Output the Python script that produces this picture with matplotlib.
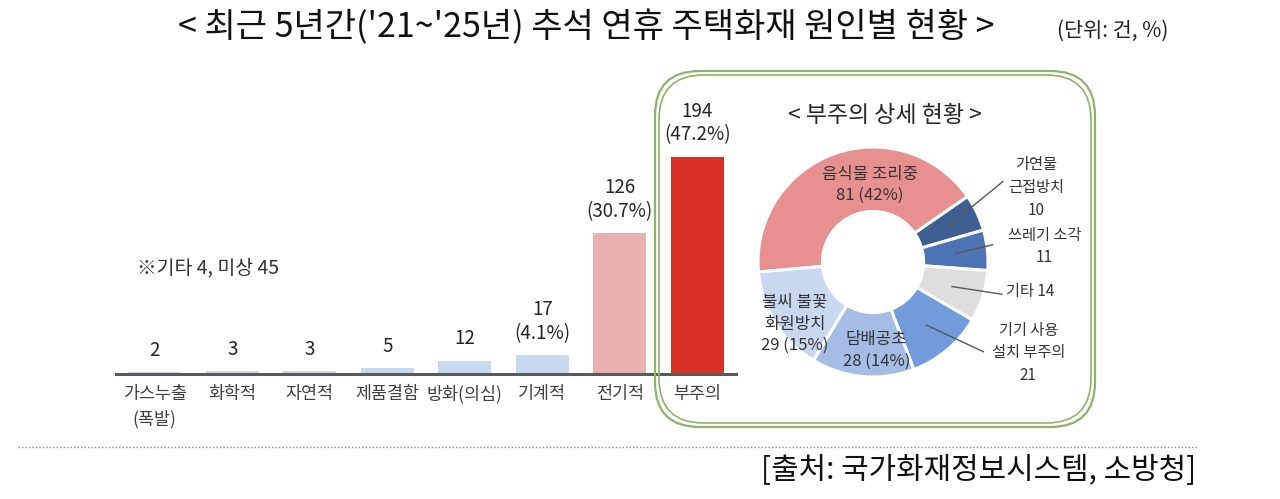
import matplotlib
import numpy as np
import matplotlib.pyplot as plt
from matplotlib.patches import FancyBboxPatch
from matplotlib.lines import Line2D
matplotlib.use('Agg')

plt.rcParams['font.family'] = ['Noto Sans CJK KR', 'DejaVu Sans']

# 원인별 현황 (막대)
causes = ["가스누출\n(폭발)", "화학적", "자연적", "제품결함", "방화(의심)", "기계적", "전기적", "부주의"]
counts = [2, 3, 3, 5, 12, 17, 126, 194]
shares = [None, None, None, None, None, 4.1, 30.7, 47.2]
bar_colors = ["#C6D9F1"] * 6 + ["#EBB0B0", "#D93025"]

# 부주의 상세 현황 (도넛)
detail_names = ["음식물 조리중", "가연물\n근접방치", "쓰레기 소각", "기타", "기기 사용\n설치 부주의", "담배공초", "불씨 불꽃\n화원방치"]
detail_counts = [81, 10, 11, 14, 21, 28, 29]
detail_pct = [42, None, None, None, None, 14, 15]
detail_colors = ["#E8908F", "#3D5E91", "#4C74B5", "#DEDEDE", "#729BDB", "#A5BDE6", "#C9D8F0"]

W, H = 1280, 499
fig = plt.figure(figsize=(12.8, 4.99), dpi=100)

def px_box(x0, y0, x1, y1):
    # pixel box (top-left origin) -> figure fraction rect
    return [x0 / W, 1 - y1 / H, (x1 - x0) / W, (y1 - y0) / H]

# ---- 막대 그래프
ax = fig.add_axes(px_box(116, 94, 736, 374))
x = np.arange(len(causes))
ax.bar(x, counts, width=0.68, color=bar_colors, zorder=2)
ax.set_xlim(-0.5, len(causes) - 0.5)
ax.set_ylim(0, 250)
for s in ["top", "right", "left"]:
    ax.spines[s].set_visible(False)
ax.spines["bottom"].set_color("#595959")
ax.spines["bottom"].set_linewidth(2.2)
ax.set_yticks([])
ax.set_xticks(x)
ax.set_xticklabels(causes, fontsize=12.5, color="#404040", linespacing=1.5)
ax.tick_params(axis="x", length=0, pad=8)

for i, (c, s) in enumerate(zip(counts, shares)):
    label = f"{c}" if s is None else f"{c}\n({s}%)"
    ax.annotate(label, (i, c), xytext=(0, 8), textcoords="offset points",
                ha="center", va="bottom", fontsize=13.5, color="#262626",
                linespacing=1.15)

fig.text(137 / W, 1 - 268 / H, "※기타 4, 미상 45", fontsize=14, color="#333333",
         ha="left", va="center")

# ---- 초록 박스
for pad, lw in [(0, 1.6), (4, 1.2)]:
    box = FancyBboxPatch(((655 + pad) / W, 1 - (427 - pad) / H),
                         (440 - 2 * pad) / W, (356 - 2 * pad) / H,
                         boxstyle="round,pad=0,rounding_size=0.035",
                         transform=fig.transFigure, fill=False,
                         edgecolor="#8DB36A", linewidth=lw,
                         mutation_aspect=W / H)
    fig.add_artist(box)

# ---- 도넛
cx, cy, half = 873, 262, 130
pax = fig.add_axes(px_box(cx - half, cy - half, cx + half, cy + half))
wedges, _ = pax.pie(detail_counts, colors=detail_colors, startangle=185,
                    counterclock=False, radius=1.0,
                    wedgeprops=dict(width=0.56, edgecolor="white", linewidth=2.2))
lim = half / 115
pax.set_xlim(-lim, lim)
pax.set_ylim(-lim, lim)
pax.set_aspect("equal")
pax.axis("off")

# 안쪽 라벨 위치 / 바깥 라벨 위치 (축 단위)
inner_pos = {0: (-0.03, 0.67), 5: (0.03, -0.77), 6: (-0.68, -0.54)}
outer_pos = {1: (1.42, 0.65), 2: (1.49, 0.135), 3: (1.37, -0.26), 4: (1.35, -0.79)}
line_end = {1: (1.13, 0.70), 2: (1.04, 0.15), 3: (1.12, -0.28), 4: (0.96, -0.78)}

for i, w in enumerate(wedges):
    name, cnt, pct = detail_names[i], detail_counts[i], detail_pct[i]
    if i in inner_pos:
        txt = f"{name}\n{cnt} ({pct}%)"
        pax.text(*inner_pos[i], txt, ha="center", va="center", fontsize=12,
                 color="#333333", linespacing=1.35, fontweight="medium")
    else:
        if i == 3:
            txt = f"{name} {cnt}"
        else:
            txt = f"{name}\n{cnt}"
        pax.text(*outer_pos[i], txt, ha="center", va="center", fontsize=11,
                 color="#333333", linespacing=1.45, clip_on=False)
        ang = np.deg2rad((w.theta1 + w.theta2) / 2)
        sx, sy = 0.72 * np.cos(ang), 0.72 * np.sin(ang)
        pax.plot([sx, line_end[i][0]], [sy, line_end[i][1]], color="#595959",
                 linewidth=1.0, clip_on=False)

fig.text(885 / W, 1 - 115 / H, "< 부주의 상세 현황 >", fontsize=16.5, color="#262626",
         ha="center", va="center")

# ---- 제목, 단위, 출처
fig.text(586 / W, 1 - 28 / H, "< 최근 5년간('21~'25년) 추석 연휴 주택화재 원인별 현황 >",
         fontsize=24.5, color="#111111", ha="center", va="center")
fig.text(1113 / W, 1 - 31 / H, "(단위: 건, %)", fontsize=15, color="#222222",
         ha="center", va="center")
fig.add_artist(Line2D([18 / W, 1198 / W], [1 - 447 / H, 1 - 447 / H],
                      transform=fig.transFigure, color="#888888",
                      linewidth=1.0, linestyle=(0, (1, 1.5))))
fig.text(1196 / W, 1 - 470 / H, "[출처: 국가화재정보시스템, 소방청]", fontsize=21.5,
         color="#111111", ha="right", va="center")

plt.savefig("out.png", dpi=100)
